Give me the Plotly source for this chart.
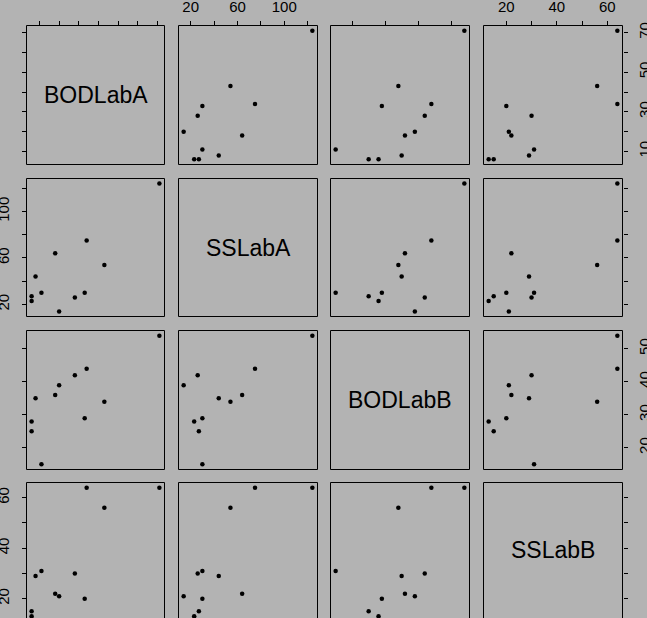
import plotly.graph_objects as go

# ---- data (effluent data: BOD and SS measured by two labs) ----
BODLabA = [6, 6, 18, 8, 11, 34, 28, 71, 43, 33, 20]
SSLabA = [27, 23, 64, 44, 30, 75, 26, 124, 54, 30, 14]
BODLabB = [25, 28, 36, 35, 15, 44, 42, 54, 34, 29, 39]
SSLabB = [15, 13, 22, 29, 31, 64, 30, 64, 56, 20, 21]
var_names = ["BODLabA", "SSLabA", "BODLabB", "SSLabB"]

# tick values and tick labels per variable
ticks_BODLabA = [10, 20, 30, 40, 50, 60, 70]
labels_BODLabA = ["10", "", "30", "", "50", "", "70"]
ticks_SSLabA = [20, 40, 60, 80, 100, 120]
labels_SSLabA = ["20", "", "60", "", "100", ""]
ticks_BODLabB = [20, 30, 40, 50]
labels_BODLabB = ["20", "30", "40", "50"]
ticks_SSLabB = [20, 30, 40, 50, 60]
labels_SSLabB = ["20", "", "40", "", "60"]

values = {"BODLabA": BODLabA, "SSLabA": SSLabA, "BODLabB": BODLabB, "SSLabB": SSLabB}
tickvals = {"BODLabA": ticks_BODLabA, "SSLabA": ticks_SSLabA,
            "BODLabB": ticks_BODLabB, "SSLabB": ticks_SSLabB}
ticktext = {"BODLabA": labels_BODLabA, "SSLabA": labels_SSLabA,
            "BODLabB": labels_BODLabB, "SSLabB": labels_SSLabB}

# ---- layout geometry (pixels) ----
W, H = 647, 618
col_left = [26, 178, 330, 483]
col_right = [164, 317, 469, 622]
row_top = [25, 178, 330, 482]
row_bottom = [164, 316, 469, 621]
BG = "#B3B3B3"
FONT = "Liberation Sans, Arial, Helvetica, sans-serif"


def ext_range(v):
    lo, hi = min(v), max(v)
    d = hi - lo
    return [lo - 0.04 * d, hi + 0.04 * d]


fig = go.Figure()
layout = dict(
    width=W, height=H,
    margin=dict(l=0, r=0, t=0, b=0, autoexpand=False),
    paper_bgcolor=BG, plot_bgcolor=BG,
    showlegend=False,
    font=dict(family=FONT, color="black"),
)
shapes = []
annotations = []

for i in range(4):
    for j in range(4):
        k = i * 4 + j + 1
        xs = "" if k == 1 else str(k)
        xname, yname = var_names[j], var_names[i]
        xr = ext_range(values[xname])
        yr = ext_range(values[yname])

        x0p = (col_left[j] + 0.5) / W
        x1p = (col_right[j] + 0.5) / W
        top_px = row_top[i] + 0.5
        bot_px = row_bottom[i] + 0.5
        y1p = 1 - top_px / H
        if bot_px > H:
            # panel is cut off by the bottom edge: keep the same scale
            frac = (H - top_px) / (bot_px - top_px)
            yr = [yr[1] - frac * (yr[1] - yr[0]), yr[1]]
            y0p = 0.0
        else:
            y0p = 1 - bot_px / H

        if i == j:
            fig.add_trace(go.Scatter(x=[], y=[], xaxis="x" + xs, yaxis="y" + xs,
                                     mode="markers"))
            annotations.append(dict(
                text=var_names[i], xref="x%s domain" % xs, yref="y%s domain" % xs,
                x=0.5, y=0.5, showarrow=False,
                font=dict(size=23, family=FONT, color="black"),
                xanchor="center", yanchor="middle"))
        else:
            fig.add_trace(go.Scatter(
                x=values[xname], y=values[yname], mode="markers",
                xaxis="x" + xs, yaxis="y" + xs,
                marker=dict(size=4.5, color="black"),
                cliponaxis=False, hoverinfo="skip"))

        xa = dict(domain=[x0p, x1p], range=xr, anchor="y" + xs,
                  showgrid=False, zeroline=False, showline=False,
                  fixedrange=True, automargin=False)
        if i == 0:
            xa.update(side="top", ticks="outside", ticklen=4, tickwidth=1,
                      tickcolor="black", tickvals=tickvals[xname],
                      ticktext=ticktext[xname],
                      showticklabels=(j % 2 == 1),
                      tickfont=dict(size=15, family=FONT, color="black"),
                      ticklabelstandoff=3)
        else:
            xa.update(ticks="", showticklabels=False)

        ya = dict(domain=[y0p, y1p], range=yr, anchor="x" + xs,
                  showgrid=False, zeroline=False, showline=False,
                  fixedrange=True, automargin=False)
        if j == 0 or j == 3:
            show = (j == 0 and i % 2 == 1) or (j == 3 and i % 2 == 0)
            ya.update(side="left" if j == 0 else "right",
                      ticks="outside", ticklen=4, tickwidth=1,
                      tickcolor="black", tickvals=tickvals[yname],
                      ticktext=ticktext[yname], showticklabels=show,
                      tickangle=-90,
                      tickfont=dict(size=15, family=FONT, color="black"),
                      ticklabelstandoff=7 if j == 0 else 4)
        else:
            ya.update(ticks="", showticklabels=False)

        layout["xaxis" + xs] = xa
        layout["yaxis" + xs] = ya

        shapes.append(dict(type="rect", xref="paper", yref="paper",
                           x0=x0p, x1=x1p,
                           y0=1 - bot_px / H, y1=y1p,
                           line=dict(color="black", width=1),
                           fillcolor="rgba(0,0,0,0)", layer="above"))

layout["shapes"] = shapes
layout["annotations"] = annotations
fig.update_layout(**layout)
fig.write_html("out.html", config={"displayModeBar": False},
               post_script="document.body.style.margin='0';"
                           "document.body.style.background='" + BG + "';")
